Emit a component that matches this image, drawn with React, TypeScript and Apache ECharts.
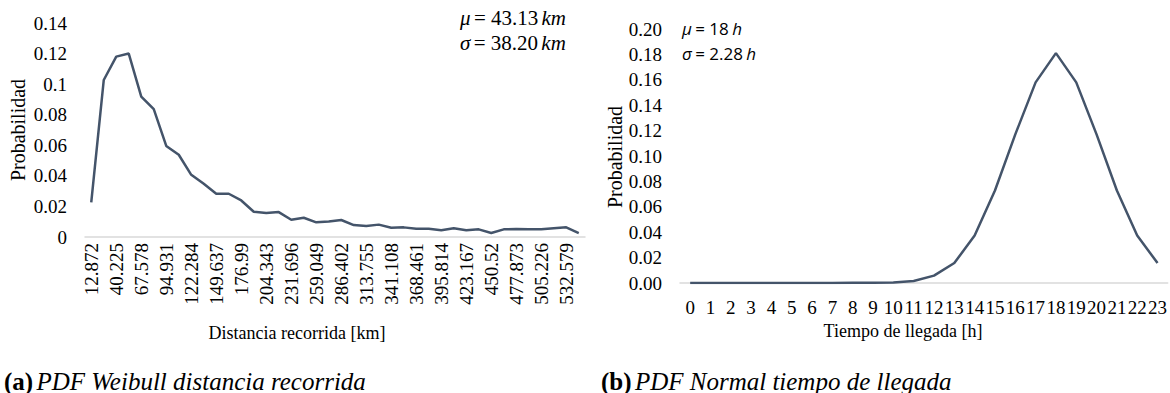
import React, { useEffect, useRef } from "react";
import * as echarts from "echarts";

const distCategories = [
  "12.872", "26.5485", "40.225", "53.9015", "67.578", "81.2545", "94.931", "108.6075",
  "122.284", "135.9605", "149.637", "163.3135", "176.99", "190.6665", "204.343", "218.0195",
  "231.696", "245.3725", "259.049", "272.7265", "286.402", "300.0795", "313.755", "327.4325",
  "341.108", "354.7855", "368.461", "382.1385", "395.814", "409.4915", "423.167", "436.8445",
  "450.52", "464.1975", "477.873", "491.5505", "505.226", "518.9035", "532.579", "546.2555",
];
const distValues = [
  0.0226, 0.1027, 0.118, 0.12, 0.0918, 0.0836, 0.0596, 0.0538, 0.0407, 0.0348,
  0.0283, 0.0283, 0.0239, 0.0165, 0.0157, 0.0163, 0.0113, 0.0126, 0.0096, 0.0102,
  0.0111, 0.0078, 0.0072, 0.0081, 0.0061, 0.0063, 0.0054, 0.0054, 0.0044, 0.0057,
  0.0044, 0.005, 0.0026, 0.005, 0.0052, 0.005, 0.005, 0.0057, 0.0063, 0.0026,
];
const hourCategories = [
  "0", "1", "2", "3", "4", "5", "6", "7", "8", "9", "10", "11",
  "12", "13", "14", "15", "16", "17", "18", "19", "20", "21", "22", "23",
];
const hourValues = [
  0, 0, 0, 0, 0, 0, 0, 0, 0.0001, 0.0001, 0.0004, 0.0016,
  0.0058, 0.0157, 0.0374, 0.0728, 0.117, 0.158, 0.181, 0.158, 0.117, 0.0728, 0.0374, 0.0157,
];

const SERIF = "'Liberation Serif', 'Times New Roman', serif";
const SANS = "'Open Sans', sans-serif";
const LINE = "#44546A";
const AXIS = "#D9D9D9";
const TXT = "#000000";

export default function App() {
  const ref = useRef<HTMLDivElement>(null);
  useEffect(() => {
    if (!ref.current) return;
    const chart = echarts.init(ref.current, null, { renderer: "svg" });
    const labelBase = { color: TXT, fontFamily: SERIF, fontSize: 19 };
    const caption = (tag: string, rest: string, x: number) => ({
      type: "text",
      x,
      y: 381,
      style: {
        text: `{b|${tag}} {i|${rest}}`,
        verticalAlign: "middle",
        rich: {
          b: { fontFamily: SERIF, fontSize: 25, fontWeight: "bold", fill: TXT },
          i: { fontFamily: SERIF, fontSize: 25, fontStyle: "italic", fill: TXT },
        },
      },
    });
    const stat = (sym: string, val: string, unit: string, x: number, y: number, fam: string, size: number) => ({
      type: "text",
      x,
      y,
      style: {
        text: `{i|${sym}} {n|= ${val}} {i|${unit}}`,
        verticalAlign: "middle",
        rich: {
          i: { fontFamily: fam, fontSize: size, fontStyle: "italic", fill: TXT },
          n: { fontFamily: fam, fontSize: size, fill: TXT },
        },
      },
    });
    chart.setOption({
      animation: false,
      backgroundColor: "#ffffff",
      grid: [
        { left: 85, right: 585, top: 23, bottom: 156, containLabel: false },
        { left: 680, right: 1, top: 29, bottom: 110, containLabel: false },
      ],
      xAxis: [
        {
          type: "category",
          gridIndex: 0,
          data: distCategories,
          boundaryGap: true,
          axisLine: { show: true, lineStyle: { color: AXIS, width: 1.5 } },
          axisTick: { show: false },
          axisLabel: { ...labelBase, rotate: 90, interval: 1, margin: 6 },
          splitLine: { show: false },
        },
        {
          type: "category",
          gridIndex: 1,
          data: hourCategories,
          boundaryGap: true,
          axisLine: { show: true, lineStyle: { color: AXIS, width: 1.5 } },
          axisTick: { show: false },
          axisLabel: { ...labelBase, interval: 0, margin: 15 },
          splitLine: { show: false },
        },
      ],
      yAxis: [
        {
          type: "value",
          gridIndex: 0,
          min: 0,
          max: 0.14,
          interval: 0.02,
          axisLine: { show: false },
          axisTick: { show: false },
          splitLine: { show: false },
          axisLabel: { ...labelBase, margin: 18 },
        },
        {
          type: "value",
          gridIndex: 1,
          min: 0,
          max: 0.2,
          interval: 0.02,
          axisLine: { show: false },
          axisTick: { show: false },
          splitLine: { show: false },
          axisLabel: { ...labelBase, margin: 18, formatter: (v: number) => v.toFixed(2) },
        },
      ],
      series: [
        {
          type: "line",
          xAxisIndex: 0,
          yAxisIndex: 0,
          data: distValues,
          showSymbol: false,
          symbol: "none",
          lineStyle: { color: LINE, width: 2.5 },
        },
        {
          type: "line",
          xAxisIndex: 1,
          yAxisIndex: 1,
          data: hourValues,
          showSymbol: false,
          symbol: "none",
          lineStyle: { color: LINE, width: 2.5 },
        },
      ],
      graphic: [
        {
          type: "text",
          x: 18,
          y: 130,
          rotation: Math.PI / 2,
          style: { text: "Probabilidad", fill: TXT, font: `20px ${SERIF}`, align: "center", verticalAlign: "middle" },
        },
        {
          type: "text",
          x: 615,
          y: 157,
          rotation: Math.PI / 2,
          style: { text: "Probabilidad", fill: TXT, font: `20px ${SERIF}`, align: "center", verticalAlign: "middle" },
        },
        {
          type: "text",
          x: 297,
          y: 333,
          style: { text: "Distancia recorrida [km]", fill: TXT, font: `18px ${SERIF}`, align: "center", verticalAlign: "middle" },
        },
        {
          type: "text",
          x: 903,
          y: 331,
          style: { text: "Tiempo de llegada [h]", fill: TXT, font: `18px ${SERIF}`, align: "center", verticalAlign: "middle" },
        },
        caption("(a)", "PDF Weibull distancia recorrida", 4),
        caption("(b)", "PDF Normal tiempo de llegada", 601),
        stat("μ", "43.13", "km", 460, 18, SERIF, 21),
        stat("σ", "38.20", "km", 460, 43, SERIF, 21),
        stat("μ", "18", "h", 682, 28, SANS, 17),
        stat("σ", "2.28", "h", 682, 53, SANS, 17),
      ],
    });
    return () => chart.dispose();
  }, []);
  return (
    <div
      ref={ref}
      style={{ position: "absolute", left: 0, top: 0, width: 1170, height: 393, background: "#fff" }}
    />
  );
}
